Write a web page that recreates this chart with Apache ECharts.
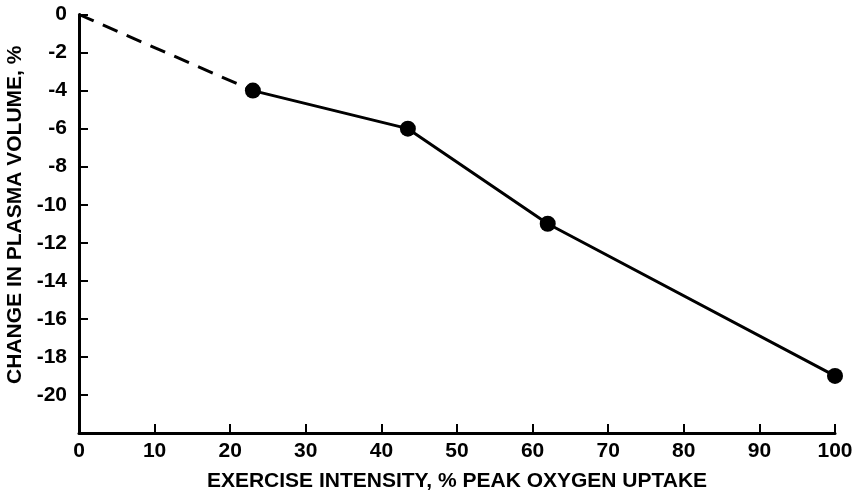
<!DOCTYPE html>
<html><head><meta charset="utf-8">
<script src="https://cdn.jsdelivr.net/npm/echarts@6/dist/echarts.min.js"></script>
<style>html,body{margin:0;padding:0;background:#fff}#c{width:860px;height:493px}</style>
</head><body><div id="c"></div>
<script>
const xTicks = [0,10,20,30,40,50,60,70,80,90,100];
const yTicks = [0,-2,-4,-6,-8,-10,-12,-14,-16,-18,-20];
const extrapolated = [[0,0],[23,-4]];
const measured = [[23,-4],[43.5,-6],[62,-11],[100,-19]];
const xName = 'EXERCISE INTENSITY, % PEAK OXYGEN UPTAKE';
const yName = 'CHANGE IN PLASMA VOLUME, %';

const font = 'Liberation Sans, Arial, sans-serif';
const chart = echarts.init(document.getElementById('c'));
chart.setOption({
  animation:false,
  grid:{left:79,right:25,top:14.5,bottom:60,containLabel:false,outerBoundsMode:'none'},
  xAxis:{type:'value',min:0,max:100,interval:10,
    name:xName,nameLocation:'middle',nameGap:38,
    nameTextStyle:{color:'#000',fontFamily:font,fontWeight:'bold',fontSize:21},
    axisLine:{show:true,onZero:false,lineStyle:{color:'#000',width:3}},
    axisTick:{show:true,inside:true,length:9,lineStyle:{color:'#000',width:2}},
    axisLabel:{color:'#000',fontFamily:font,fontWeight:'bold',fontSize:21,margin:8,
      formatter:v=>xTicks.includes(v)?String(v):''},
    splitLine:{show:false}},
  yAxis:{type:'value',min:-22,max:0,interval:2,
    name:yName,nameLocation:'middle',nameGap:51,nameRotate:90,
    nameTextStyle:{color:'#000',fontFamily:font,fontWeight:'bold',fontSize:21,padding:[0,0,0,18]},
    axisLine:{show:true,onZero:false,lineStyle:{color:'#000',width:3}},
    axisTick:{show:true,inside:true,length:9,lineStyle:{color:'#000',width:2},
      customValues:yTicks},
    axisLabel:{color:'#000',fontFamily:font,fontWeight:'bold',fontSize:21,margin:12,
      customValues:yTicks,formatter:v=>String(v)},
    splitLine:{show:false}},
  series:[
    {type:'line',data:extrapolated,symbol:'none',silent:true,
      lineStyle:{color:'#000',width:3,type:[16,10]}},
    {type:'line',data:measured,symbol:'circle',symbolSize:16,silent:true,
      itemStyle:{color:'#000'},lineStyle:{color:'#000',width:3}}
  ]
});
</script></body></html>
